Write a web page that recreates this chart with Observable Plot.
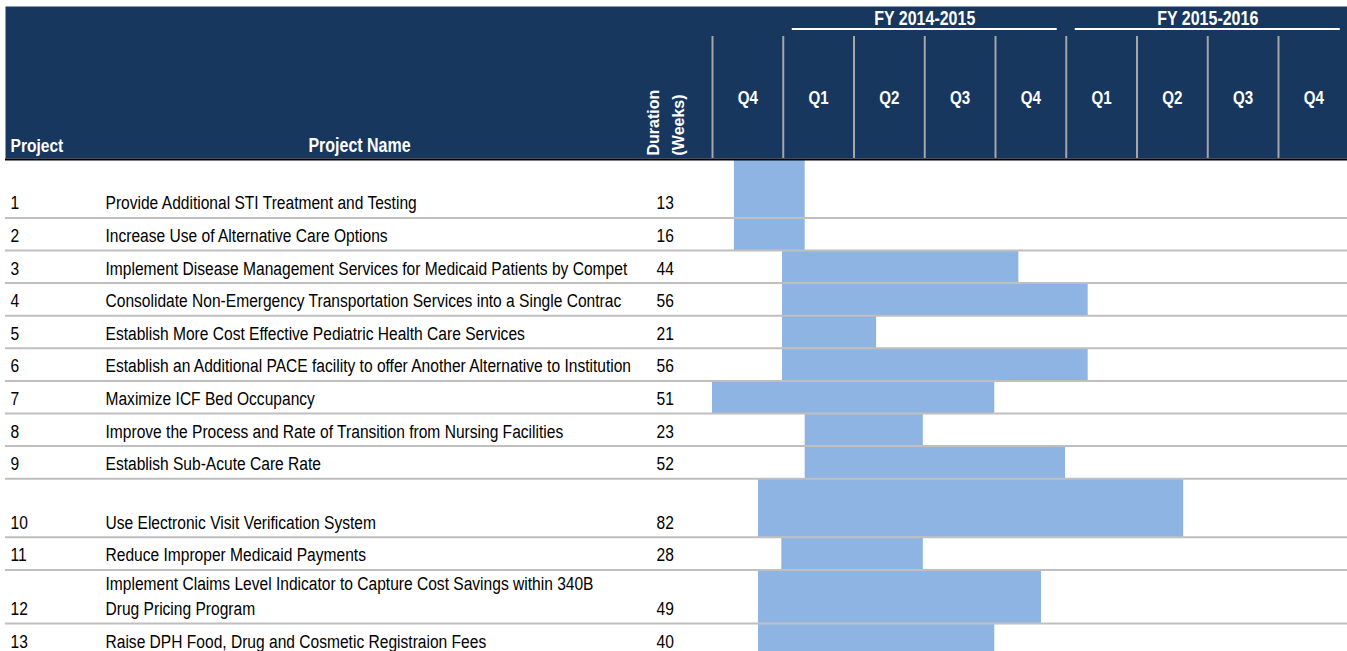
<!DOCTYPE html>
<html><head><meta charset="utf-8">
<script src="https://cdn.jsdelivr.net/npm/d3@7"></script>
<script src="https://cdn.jsdelivr.net/npm/@observablehq/plot@0.6"></script>
<style>
html,body{margin:0;padding:0;background:#fff;}
#chart svg{display:block;}
</style></head><body><div id="chart"></div>
<script>
// ---------------- data ----------------
const projectIds = [1, 2, 3, 4, 5, 6, 7, 8, 9, 10, 11, 12, 13];
const projectNames = [
  "Provide Additional STI Treatment and Testing",
  "Increase Use of Alternative Care Options",
  "Implement Disease Management Services for Medicaid Patients by Compet",
  "Consolidate Non-Emergency Transportation Services into a Single Contrac",
  "Establish More Cost Effective Pediatric Health Care Services",
  "Establish an Additional PACE facility to offer Another Alternative to Institution",
  "Maximize ICF Bed Occupancy",
  "Improve the Process and Rate of Transition from Nursing Facilities",
  "Establish Sub-Acute Care Rate",
  "Use Electronic Visit Verification System",
  "Reduce Improper Medicaid Payments",
  "Implement Claims Level Indicator to Capture Cost Savings within 340B\nDrug Pricing Program",
  "Raise DPH Food, Drug and Cosmetic Registraion Fees"
];
const durations = [13, 16, 44, 56, 21, 56, 51, 23, 52, 82, 28, 49, 40];
// bar start / end, in quarters counted from the start of FY 2013-2014 Q4
const barStart = [0.31, 0.31, 0.99, 0.99, 0.99, 0.99, 0.0, 1.31, 1.31, 0.65, 0.98, 0.65, 0.65];
const barEnd   = [1.31, 1.31, 4.33, 5.31, 2.32, 5.31, 3.99, 2.98, 4.99, 6.66, 2.98, 4.65, 3.99];
const quarterLabels = ["Q4", "Q1", "Q2", "Q3", "Q4", "Q1", "Q2", "Q3", "Q4"];
const fiscalYears = ["FY 2014-2015", "FY 2015-2016"];
const fiscalYearFrom = [1, 5];
const fiscalYearTo = [5, 9];

// ---------------- layout ----------------
const W = 1347, H = 651;
const rowUnits = [1.76, 1, 1, 1, 1, 1, 1, 1, 1, 1.8, 1, 1.64, 1]; // relative row heights
const UNIT = 32.6, BODY_TOP = 160, HEADER_TOP = 6, HEADER_BOTTOM = 158;
const NAVY = "#17375E", BAR = "#8DB4E2", GRID = "#BFBFBF";
const NARROW = "'Liberation Sans Narrow', 'Liberation Sans', Arial, sans-serif";
const WIDE = "'Liberation Sans', Arial, sans-serif";
const CONDENSE = 0.82; // Arial Narrow is Arial condensed horizontally

const bounds = [0];
rowUnits.forEach(u => bounds.push(bounds[bounds.length - 1] + u));
const total = bounds[bounds.length - 1];

const rows = projectIds.map((id, i) => ({
  id, name: projectNames[i], duration: durations[i],
  start: barStart[i], end: barEnd[i],
  top: bounds[i], bottom: bounds[i + 1]
}));
const quarters = quarterLabels.map((q, i) => ({q, pos: i + 0.5}));
const fys = fiscalYears.map((label, i) => ({label, from: fiscalYearFrom[i], to: fiscalYearTo[i]}));

const bodyText = {fontFamily: NARROW, fontSize: 19, fill: "#000", textAnchor: "start", lineAnchor: "bottom", lineHeight: 1.32, dy: -8.5, y: "bottom", frameAnchor: "left"};
const headText = {fill: "#fff", fontFamily: NARROW, fontWeight: "bold", lineAnchor: "middle"};

const chart = Plot.plot({
  width: W, height: H,
  margin: 0,
  style: {background: "#fff", overflow: "visible"},
  x: {domain: [0, 9], range: [712, 712 + 9 * 70.75], axis: null},
  y: {domain: [0, total], range: [BODY_TOP, BODY_TOP + total * UNIT], axis: null},
  marks: [
    // header background
    Plot.frame({fill: NAVY, stroke: null, insetTop: HEADER_TOP, insetLeft: 5, insetBottom: H - HEADER_BOTTOM}),
    // header column separators
    Plot.ruleX(d3.range(0, 9), {stroke: "#A6A6A6", strokeWidth: 2, insetTop: 36, insetBottom: H - HEADER_BOTTOM}),
    // fiscal year underline
    Plot.rect(fys, {x1: "from", x2: "to", fill: "#fff", insetLeft: 9, insetRight: 9, insetTop: 28, insetBottom: H - 30}),
    Plot.text(fys, {...headText, x: d => (d.from + d.to) / 2, text: "label", frameAnchor: "top", dy: 18, fontSize: 19.5}),
    Plot.text(quarters, {...headText, x: "pos", text: "q", frameAnchor: "top", dy: 98, fontSize: 18.5}),
    Plot.text(["Project"], {...headText, frameAnchor: "top-left", dx: 10, dy: 145, textAnchor: "start", fontSize: 19}),
    Plot.text(["Project Name"], {...headText, frameAnchor: "top-left", dx: 359, dy: 145, textAnchor: "middle", fontSize: 19.5}),
    Plot.text(["Duration"], {frameAnchor: "top-left", dx: 658, dy: 155, rotate: -90, textAnchor: "start", lineAnchor: "bottom", fill: "#fff", fontFamily: WIDE, fontWeight: "bold", fontSize: 16}),
    Plot.text(["(Weeks)"], {frameAnchor: "top-left", dx: 683, dy: 155, rotate: -90, textAnchor: "start", lineAnchor: "bottom", fill: "#fff", fontFamily: WIDE, fontWeight: "bold", fontSize: 16}),
    // bars
    Plot.rect(rows, {x1: "start", x2: "end", y1: "top", y2: "bottom", fill: BAR}),
    // row lines
    Plot.ruleY(bounds.slice(1), {stroke: GRID, strokeWidth: 2, insetLeft: 5}),
    // header bottom line
    Plot.ruleY([0], {stroke: "#000", strokeWidth: 2, dy: -1, insetLeft: 5}),
    // table text
    Plot.text(rows, {...bodyText, text: d => String(d.id), dx: 10}),
    Plot.text(rows, {...bodyText, text: "name", dx: 105, ariaDescription: "project-names"}),
    Plot.text(rows, {...bodyText, text: d => String(d.duration), dx: 656})
  ]
});

const svg = d3.select(chart);

// condense the narrow-font texts horizontally (Arial Narrow look)
svg.selectAll('g[aria-label="text"]').each(function () {
  const fam = this.getAttribute("font-family") || "";
  if (!fam.includes("Narrow")) return;
  d3.select(this).selectAll("text").each(function () {
    const t = this.getAttribute("transform") || "";
    this.setAttribute("transform", `${t} scale(${CONDENSE},1)`.trim());
  });
});

// clip the project-name column at the edge of its cell, as in the spreadsheet
svg.append("defs").append("clipPath").attr("id", "name-clip")
  .append("rect").attr("x", 0).attr("y", 0).attr("width", 646).attr("height", H);
const nameGroup = svg.select('g[aria-description="project-names"]').node();
if (nameGroup) {
  const wrap = document.createElementNS("http://www.w3.org/2000/svg", "g");
  wrap.setAttribute("clip-path", "url(#name-clip)");
  nameGroup.parentNode.insertBefore(wrap, nameGroup);
  wrap.appendChild(nameGroup);
}

document.getElementById("chart").append(chart);
</script>
</body></html>
